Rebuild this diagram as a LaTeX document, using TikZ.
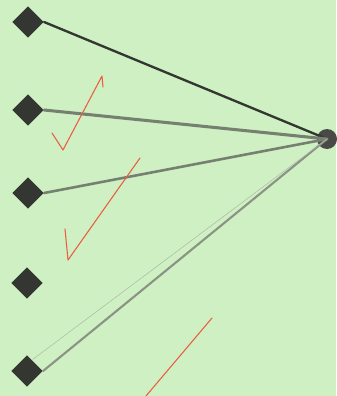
\documentclass[tikz,border=0pt]{standalone}
\usetikzlibrary{shapes.geometric}
\definecolor{paper}{RGB}{206,240,194}
\definecolor{ink}{RGB}{52,54,50}
\definecolor{pencil}{RGB}{118,128,112}
\definecolor{redpen}{RGB}{236,92,64}
\begin{document}
\begin{tikzpicture}[x=0.03cm,y=-0.03cm]

\def\dsize{0.95cm}

\tikzstyle{dnode} = [diamond,minimum size=\dsize,inner sep=0pt,fill=ink];
\tikzstyle{cnode} = [circle,minimum size=0.6cm,inner sep=0pt,fill=ink!90];
\tikzstyle{edge} = [line width=2.2pt,pencil,line cap=round];
\tikzstyle{tick} = [line width=0.9pt,redpen,line cap=round,line join=round];

\fill [paper] (0,0) rectangle (336,396);
\useasboundingbox (0,0) rectangle (336,396);

\node [dnode] (d1) at (28,22) {};
\node [dnode] (d2) at (28,110) {};
\node [dnode] (d3) at (28,193) {};
\node [dnode] (d4) at (27,283) {};
\node [dnode] (d5) at (27,371) {};

\node [cnode] (c) at (327,139) {};

\draw [edge,ink,line width=2pt] (d1.east) -- (c.center);
\draw [edge,line width=2.6pt] (d2.east) -- (c.center);
\draw [edge] (d3.east) -- (c.center);
\draw [edge,pencil!85,line width=1.8pt] (d5.east) -- (c.center);
\draw [pencil!60,line width=0.4pt] ([xshift=-2pt,yshift=3pt]d5.north east) -- (c.center);

\draw [tick] (52,133) -- (63,150) -- (102,76) -- (103,87);
\draw [tick] (65,229) -- (68,260) -- (140,158);
\draw [tick] (212,318) -- (146,396);

\end{tikzpicture}
\end{document}
